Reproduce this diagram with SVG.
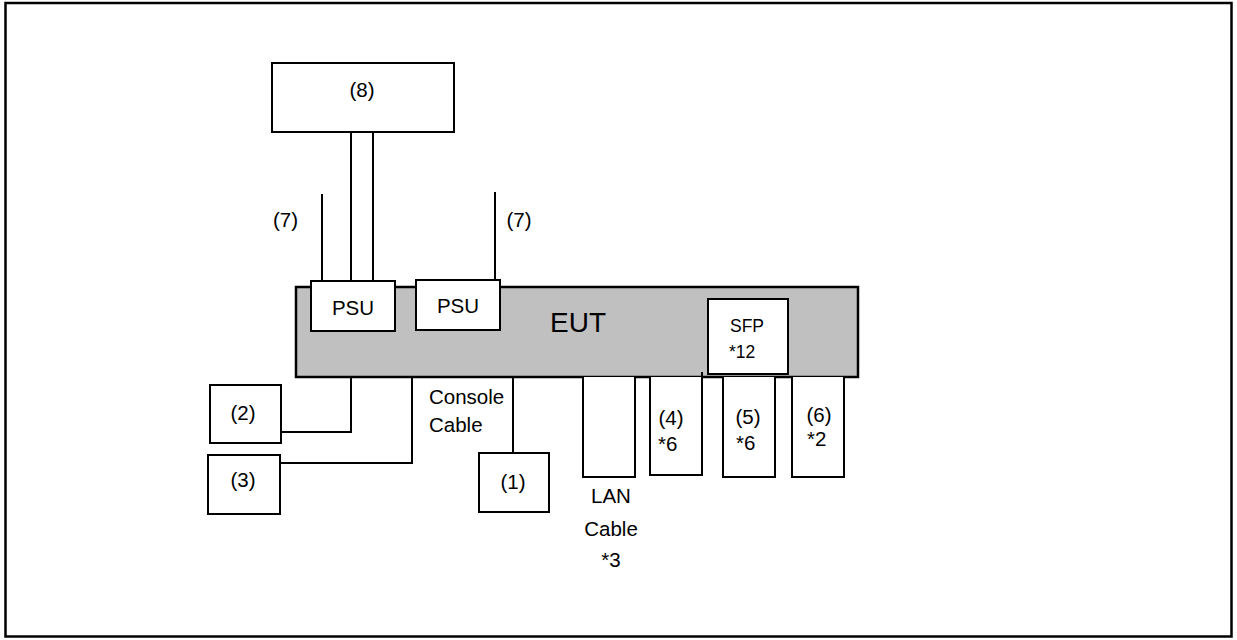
<svg xmlns="http://www.w3.org/2000/svg" width="1237" height="640" viewBox="0 0 1237 640">
<style>
.box{fill:#fff;stroke:#000;stroke-width:2}
.port{fill:#fff;stroke:#000;stroke-width:2}
.eut{fill:#c0c0c0;stroke:#000;stroke-width:2.5}
.ln{fill:none;stroke:#000;stroke-width:2}
text{font-family:"Liberation Sans",Arial,sans-serif;font-size:20.5px;fill:#000}
.c{text-anchor:middle}
</style>
<rect x="5.5" y="3" width="1226" height="633.5" fill="#fff" stroke="#000" stroke-width="2.5"/>
<g id="connectors">
<line class="ln" x1="351" y1="132" x2="351" y2="281"/>
<line class="ln" x1="373" y1="132" x2="373" y2="281"/>
<line class="ln" x1="322" y1="194" x2="322" y2="281"/>
<line class="ln" x1="495" y1="192" x2="495" y2="280"/>
<polyline class="ln" points="281,432 351,432 351,377"/>
<polyline class="ln" points="280,463 412,463 412,377"/>
<line class="ln" x1="513" y1="377" x2="513" y2="453"/>
</g>
<g id="n8"><rect class="box" x="272" y="63" width="182" height="69"/><text class="c" x="362" y="97">(8)</text></g>
<g id="power7a"><text class="c" x="285.5" y="227">(7)</text></g>
<g id="power7b"><text class="c" x="519" y="227">(7)</text></g>
<g id="eut"><rect class="eut" x="296" y="287" width="562" height="90"/><text class="c" x="578" y="332" style="font-size:28px">EUT</text></g>
<g id="psu1"><rect class="box" x="311" y="281" width="84" height="50"/><text class="c" x="353" y="315">PSU</text></g>
<g id="psu2"><rect class="box" x="416" y="280" width="84" height="50"/><text class="c" x="458" y="313">PSU</text></g>
<g id="sfp"><rect class="box" x="708" y="299" width="80" height="75"/><text x="730" y="332" style="font-size:17.5px">SFP</text><text x="729" y="358" style="font-size:17.5px">*12</text></g>
<g id="n2"><rect class="box" x="210" y="385" width="71" height="58"/><text class="c" x="243" y="420">(2)</text></g>
<g id="n3"><rect class="box" x="208" y="455" width="72" height="59"/><text class="c" x="243" y="487">(3)</text></g>
<g id="console"><text x="429" y="404">Console</text><text x="429" y="432">Cable</text></g>
<g id="n1"><rect class="box" x="479" y="453" width="70" height="59"/><text class="c" x="513" y="489">(1)</text></g>
<g id="lan"><path class="port" d="M583,377 V477 H635 V377"/><text class="c" x="611" y="503">LAN</text><text class="c" x="611" y="536">Cable</text><text class="c" x="611" y="567">*3</text></g>
<g id="n4"><path class="port" d="M650,377 V475 H702 V377"/><line class="ln" x1="702" y1="372" x2="702" y2="378"/><text class="c" x="671" y="425">(4)</text><text x="658" y="451">*6</text></g>
<g id="n5"><path class="port" d="M723,377 V477 H775 V377"/><text class="c" x="748" y="424">(5)</text><text x="736" y="450">*6</text></g>
<g id="n6"><path class="port" d="M792,377 V477 H844 V377"/><text class="c" x="819" y="422">(6)</text><text x="807" y="446">*2</text></g>
</svg>
